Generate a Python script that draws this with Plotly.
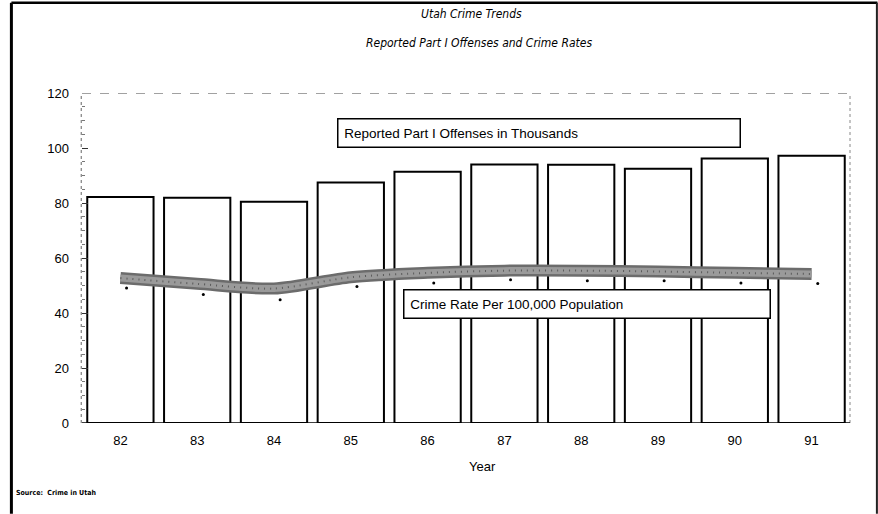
import plotly.graph_objects as go

# ---- data ----
years = [82, 83, 84, 85, 86, 87, 88, 89, 90, 91]
year_labels = ["82", "83", "84", "85", "86", "87", "88", "89", "90", "91"]
offenses_thousands = [82.2, 81.9, 80.5, 87.5, 91.4, 94.0, 93.9, 92.5, 96.2, 97.2]
crime_rate_line = [52.7, 50.6, 48.9, 53.0, 54.6, 55.4, 55.4, 55.1, 54.6, 54.2]
crime_rate_points = [49.1, 46.7, 44.8, 49.6, 50.9, 52.1, 51.7, 51.7, 50.9, 50.7]
y_ticks = [0, 20, 40, 60, 80, 100, 120]

W, H = 878, 514
L, R = 81.6, 849.6      # plot area px
T, B = 93.3, 423.3

def px(x):
    return (x - L) / (R - L)

def py(y):
    return (B - y) / (B - T)

FONT = "Liberation Sans, Arial, Helvetica, sans-serif"
NARROW = "Liberation Sans Narrow, DejaVu Sans Condensed, Arial Narrow, Liberation Sans, sans-serif"

fig = go.Figure()

fig.add_trace(go.Bar(
    x=years, y=offenses_thousands,
    marker=dict(color="white", line=dict(color="black", width=2)),
    hoverinfo="skip", showlegend=False,
))

fig.add_trace(go.Scatter(
    x=years, y=crime_rate_line, mode="lines",
    line=dict(color="#6c6c6c", width=12, shape="spline", smoothing=0.8),
    hoverinfo="skip", showlegend=False,
))
fig.add_trace(go.Scatter(
    x=years, y=crime_rate_line, mode="lines",
    line=dict(color="#9a9a9a", width=7, shape="spline", smoothing=0.8),
    hoverinfo="skip", showlegend=False,
))
fig.add_trace(go.Scatter(
    x=years, y=crime_rate_line, mode="lines",
    line=dict(color="#5a5a5a", width=2, shape="spline", smoothing=0.8, dash="1px,5px"),
    hoverinfo="skip", showlegend=False,
))

fig.add_trace(go.Scatter(
    x=[y + 0.08 for y in years], y=crime_rate_points, mode="markers",
    marker=dict(color="black", size=3),
    hoverinfo="skip", showlegend=False,
))

shapes = []
shapes.append(dict(type="line", xref="paper", yref="y", x0=0, x1=1, y0=120, y1=120,
                   line=dict(color="#444", width=1, dash="dash")))
shapes.append(dict(type="line", xref="paper", yref="paper", x0=-0.001, x1=-0.001, y0=0, y1=1,
                   line=dict(color="#666", width=1, dash="dot")))
shapes.append(dict(type="line", xref="paper", yref="paper", x0=1, x1=1, y0=0, y1=1,
                   line=dict(color="#888", width=1, dash="dot")))
shapes.append(dict(type="line", xref="paper", yref="y", x0=0, x1=1, y0=0, y1=0,
                   line=dict(color="black", width=1.5)))
# page frame
shapes.append(dict(type="line", xref="paper", yref="paper", x0=px(11), x1=px(11), y0=py(3), y1=py(514),
                   line=dict(color="black", width=3)))
shapes.append(dict(type="line", xref="paper", yref="paper", x0=px(11), x1=px(877), y0=py(3), y1=py(3),
                   line=dict(color="black", width=2.5)))
shapes.append(dict(type="line", xref="paper", yref="paper", x0=px(876.5), x1=px(876.5), y0=py(3), y1=py(514),
                   line=dict(color="#222", width=2)))

annotations = [
    dict(text="<i>Utah Crime Trends</i>", x=px(471), y=py(14), xref="paper", yref="paper",
         showarrow=False, xanchor="center", yanchor="middle",
         font=dict(family=NARROW, size=12, color="black")),
    dict(text="<i>Reported Part I Offenses and Crime Rates</i>", x=px(479), y=py(43), xref="paper", yref="paper",
         showarrow=False, xanchor="center", yanchor="middle",
         font=dict(family=NARROW, size=12, color="black")),
    dict(text="&nbsp;Reported Part I Offenses in Thousands", x=px(337), y=py(133), xref="paper", yref="paper",
         showarrow=False, xanchor="left", yanchor="middle", align="left",
         width=397, height=23, borderpad=2, borderwidth=1.5, bordercolor="black", bgcolor="white",
         font=dict(family=FONT, size=13.5, color="black")),
    dict(text="&nbsp;Crime Rate Per 100,000 Population", x=px(403), y=py(304), xref="paper", yref="paper",
         showarrow=False, xanchor="left", yanchor="middle", align="left",
         width=361, height=23, borderpad=2, borderwidth=1.5, bordercolor="black", bgcolor="white",
         font=dict(family=FONT, size=13.5, color="black")),
    dict(text="Year", x=px(482), y=py(467), xref="paper", yref="paper",
         showarrow=False, xanchor="center", yanchor="middle",
         font=dict(family=FONT, size=13, color="black")),
    dict(text="<b>Source:  Crime in Utah</b>", x=px(14), y=py(493), xref="paper", yref="paper",
         showarrow=False, xanchor="left", yanchor="middle",
         font=dict(family=NARROW, size=7, color="black")),
]

fig.update_layout(
    width=W, height=H,
    margin=dict(l=L, r=W - R, t=T, b=H - B, pad=0),
    paper_bgcolor="white", plot_bgcolor="white",
    bargap=0.137,
    shapes=shapes, annotations=annotations,
    xaxis=dict(
        range=[81.5, 91.5], tickmode="array", tickvals=years, ticktext=year_labels,
        showgrid=False, zeroline=False, showline=False, ticks="",
        tickfont=dict(family=FONT, size=13, color="black"), ticklabelstandoff=8,
    ),
    yaxis=dict(
        range=[0, 120], tickmode="array", tickvals=y_ticks,
        showgrid=False, zeroline=False, showline=False,
        ticks="inside", ticklen=6, tickcolor="#333", tickwidth=1,
        minor=dict(ticks="inside", ticklen=3, tickcolor="#777", dtick=5, showgrid=False),
        tickfont=dict(family=FONT, size=13, color="black"), ticklabelstandoff=12,
    ),
)

fig.write_html(
    "out.html",
    config={"displayModeBar": False, "staticPlot": True},
    post_script="document.body.style.margin='0';document.body.style.overflow='hidden';",
)
